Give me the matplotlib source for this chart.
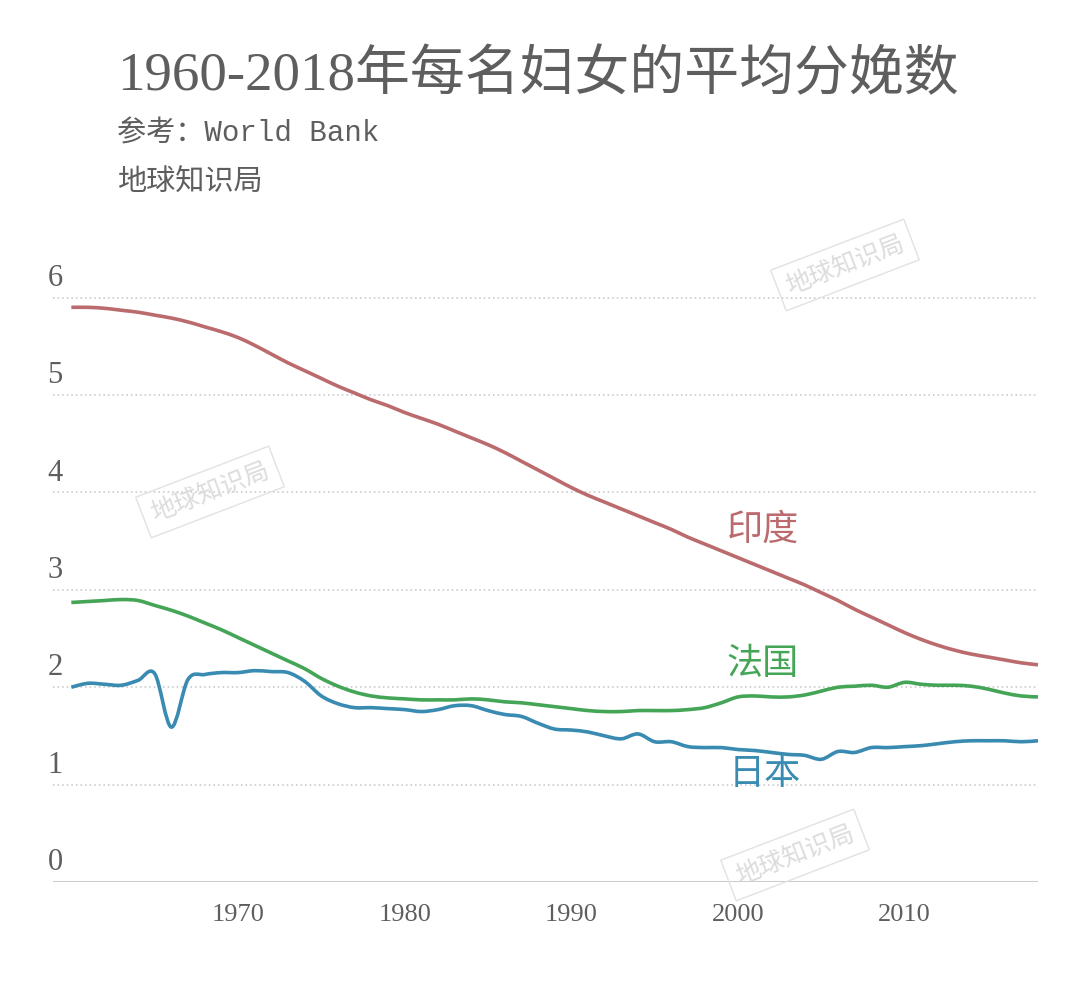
import matplotlib
matplotlib.use("Agg")
import matplotlib.pyplot as plt
import matplotlib.transforms as mtransforms
from matplotlib.path import Path
from matplotlib.patches import PathPatch
import numpy as np

years = list(range(1960, 2019))

india = [5.90, 5.90, 5.89, 5.87, 5.85, 5.82, 5.79, 5.75, 5.70, 5.65,
         5.59, 5.51, 5.42, 5.33, 5.25, 5.17, 5.09, 5.02, 4.95, 4.89,
         4.82, 4.76, 4.70, 4.63, 4.56, 4.49, 4.41, 4.32, 4.23, 4.14,
         4.05, 3.97, 3.90, 3.83, 3.76, 3.69, 3.62, 3.54, 3.47, 3.40,
         3.33, 3.26, 3.19, 3.12, 3.05, 2.97, 2.89, 2.80, 2.72, 2.64,
         2.56, 2.49, 2.43, 2.38, 2.34, 2.31, 2.28, 2.25, 2.23]

france = [2.87, 2.88, 2.89, 2.90, 2.89, 2.84, 2.79, 2.73, 2.66, 2.59,
          2.51, 2.43, 2.35, 2.27, 2.19, 2.09, 2.01, 1.95, 1.91, 1.89,
          1.88, 1.87, 1.87, 1.87, 1.88, 1.87, 1.85, 1.84, 1.82, 1.80,
          1.78, 1.76, 1.75, 1.75, 1.76, 1.76, 1.76, 1.77, 1.79, 1.84,
          1.90, 1.91, 1.90, 1.90, 1.92, 1.96, 2.00, 2.01, 2.02, 2.00,
          2.05, 2.03, 2.02, 2.02, 2.01, 1.98, 1.94, 1.91, 1.90]

japan = [2.00, 2.04, 2.03, 2.02, 2.07, 2.14, 1.59, 2.08, 2.13, 2.15,
         2.15, 2.17, 2.16, 2.15, 2.06, 1.91, 1.83, 1.79, 1.79, 1.78,
         1.77, 1.75, 1.77, 1.81, 1.81, 1.76, 1.72, 1.70, 1.63, 1.57,
         1.56, 1.54, 1.50, 1.47, 1.52, 1.44, 1.44, 1.39, 1.38, 1.38,
         1.36, 1.35, 1.33, 1.31, 1.30, 1.26, 1.34, 1.33, 1.38, 1.38,
         1.39, 1.40, 1.42, 1.44, 1.45, 1.45, 1.45, 1.44, 1.45]

series_names = ["印度", "法国", "日本"]
y_ticks = [0, 1, 2, 3, 4, 5, 6]
x_ticks = [1970, 1980, 1990, 2000, 2010]

title = "1960-2018年每名妇女的平均分娩数"
subtitle = "参考：World Bank"
credit = "地球知识局"

FONTS = ["Liberation Serif", "Noto Sans CJK SC", "DejaVu Sans"]
MONO = ["Liberation Mono", "Noto Sans CJK SC", "DejaVu Sans"]
CJK = ["Noto Sans CJK SC", "DejaVu Sans"]
plt.rcParams["font.family"] = FONTS

c_india = "#bb6b6e"
c_france = "#45a557"
c_japan = "#3a8bb2"
c_text = "#5e5e5e"
c_grid = "#c4c4c4"


def smooth_path(xs, ys):
    """Cardinal (Catmull-Rom) curve through the data points, drawn as a
    cubic Bezier path in data coordinates."""
    x = np.asarray(xs, float)
    y = np.asarray(ys, float)
    n = len(x)
    verts = [(x[0], y[0])]
    codes = [Path.MOVETO]
    for i in range(n - 1):
        i0 = max(i - 1, 0)
        i3 = min(i + 2, n - 1)
        c1 = (x[i] + (x[i + 1] - x[i0]) / 6, y[i] + (y[i + 1] - y[i0]) / 6)
        c2 = (x[i + 1] - (x[i3] - x[i]) / 6, y[i + 1] - (y[i3] - y[i]) / 6)
        verts += [c1, c2, (x[i + 1], y[i + 1])]
        codes += [Path.CURVE4] * 3
    return Path(verts, codes)


W, H = 1080, 981
fig = plt.figure(figsize=(W / 100, H / 100), dpi=100)
fig.patch.set_facecolor("white")

left, right = 53 / W, 1038 / W
bottom = (H - 882) / H
ymax = 6.25
height = ymax * 97.4 / H
ax = fig.add_axes([left, bottom, right - left, height])
ax.set_xlim(1958.9, 2018)
ax.set_ylim(0, ymax)
ax.set_facecolor("none")
for s in ax.spines.values():
    s.set_visible(False)
ax.set_yticks([])
ax.set_xticks(x_ticks)
ax.set_xticklabels([str(t) for t in x_ticks], fontsize=19, color=c_text,
                   family=FONTS)
ax.tick_params(axis="x", length=0, pad=16)

for v in y_ticks:
    if v == 0:
        ax.axhline(v, color="#cccccc", lw=2.2, zorder=1)
    else:
        ax.axhline(v, color=c_grid, lw=1.1, ls=(0, (1, 2)), zorder=1)
    trans = mtransforms.offset_copy(
        mtransforms.blended_transform_factory(ax.transAxes, ax.transData),
        fig=fig, x=-4, y=3.5, units="points")
    ax.text(0, v, str(v), transform=trans, fontsize=22, color=c_text,
            ha="left", va="bottom", family=FONTS)

lw = 2.6
for data, col, z in [(india, c_india, 3), (france, c_france, 3),
                     (japan, c_japan, 4)]:
    patch = PathPatch(smooth_path(years, data), fill=False, edgecolor=col,
                      lw=lw, zorder=z, capstyle="butt", joinstyle="round",
                      transform=ax.transData)
    ax.add_patch(patch)

ax.text(2001.5, 3.62, series_names[0], color=c_india, fontsize=26,
        ha="center", va="center", family=CJK)
ax.text(2001.5, 2.24, series_names[1], color=c_france, fontsize=26,
        ha="center", va="center", family=CJK)
ax.text(2001.6, 1.11, series_names[2], color=c_japan, fontsize=26,
        ha="center", va="center", family=CJK)

fig.text(117 / W, 1 - 76 / H, title, fontsize=39.5, color=c_text,
         ha="left", va="center", family=FONTS)
fig.text(117 / W, 1 - 134 / H, subtitle, fontsize=21, color=c_text,
         ha="left", va="center", family=MONO)
fig.text(117 / W, 1 - 183 / H, credit, fontsize=21, color=c_text,
         ha="left", va="center", family=CJK)

for (px, py) in [(210, 492), (845, 265), (795, 855)]:
    fig.text(px / W, 1 - py / H, credit, fontsize=18, color="#dcdcdc",
             rotation=21, ha="center", va="center", family=CJK,
             rotation_mode="anchor", zorder=0,
             bbox=dict(boxstyle="square,pad=0.35", fc="none",
                       ec="#e2e2e2", lw=1.0))

fig.savefig("out.png", dpi=100, facecolor="white")
